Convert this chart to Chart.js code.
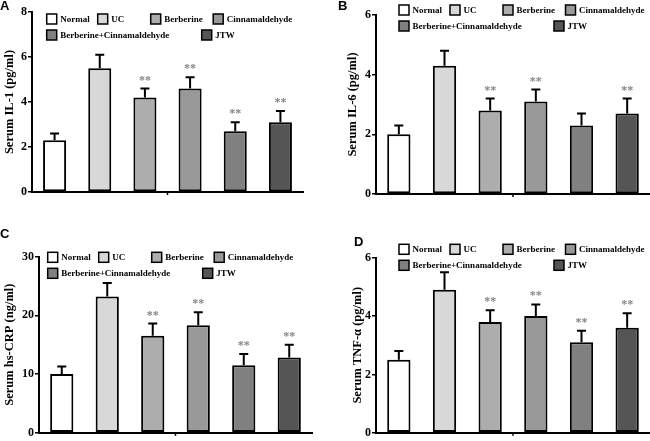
<!DOCTYPE html>
<html>
<head>
<meta charset="utf-8">
<script src="https://cdn.jsdelivr.net/npm/chart.js@4.4.1/dist/chart.umd.min.js"></script>
<style>
  body { margin: 0; background: #fff; }
  #wrap { position: relative; width: 650px; height: 441px; overflow: hidden; }
  canvas { position: absolute; }
</style>
</head>
<body>
<div id="wrap">
  <canvas id="panel-a" width="325" height="220" style="left:0;top:0"></canvas>
  <canvas id="panel-b" width="325" height="220" style="left:325px;top:0"></canvas>
  <canvas id="panel-c" width="325" height="221" style="left:0;top:220px"></canvas>
  <canvas id="panel-d" width="325" height="221" style="left:325px;top:220px"></canvas>
</div>
<script>
const groups = ["Normal", "UC", "Berberine", "Cinnamaldehyde", "Berberine+Cinnamaldehyde", "JTW"];
const groupColors = ["#ffffff", "#d8d8d8", "#adadad", "#999999", "#808080", "#555555"];

// mean and error (SD) per group
const il1Mean = [2.3, 5.5, 4.2, 4.6, 2.7, 3.1];
const il1Err = [0.3, 0.6, 0.4, 0.5, 0.4, 0.5];
const il1Stars = ["", "", "**", "**", "**", "**"];

const il6Mean = [2.0, 4.3, 2.8, 3.1, 2.3, 2.7];
const il6Err = [0.3, 0.5, 0.4, 0.4, 0.4, 0.5];
const il6Stars = ["", "", "**", "**", "", "**"];

const crpMean = [10.0, 23.2, 16.5, 18.3, 11.5, 12.8];
const crpErr = [1.3, 2.3, 2.1, 2.2, 1.9, 2.2];
const crpStars = ["", "", "**", "**", "**", "**"];

const tnfMean = [2.5, 4.9, 3.8, 4.0, 3.1, 3.6];
const tnfErr = [0.3, 0.6, 0.4, 0.4, 0.4, 0.5];
const tnfStars = ["", "", "**", "**", "**", "**"];

const serif = "'Liberation Serif', 'Times New Roman', serif";

// legend layout: column offsets from first box, row
const legendCols = [0, 51, 104, 166.5, 0, 155];
const legendRows = [0, 0, 0, 0, 1, 1];

const makeDecor = (p) => ({
  id: "decor",
  afterDatasetsDraw(chart) {
    const ctx = chart.ctx;
    const y = chart.scales.y;
    const meta = chart.getDatasetMeta(0);
    ctx.save();
    // error bars
    ctx.strokeStyle = "#000";
    ctx.lineWidth = 2;
    meta.data.forEach((bar, i) => {
      const yBar = y.getPixelForValue(p.mean[i]);
      const yTop = y.getPixelForValue(p.mean[i] + p.err[i]);
      ctx.beginPath();
      ctx.moveTo(bar.x, yBar);
      ctx.lineTo(bar.x, yTop);
      ctx.moveTo(bar.x - 4.5, yTop);
      ctx.lineTo(bar.x + 4.5, yTop);
      ctx.stroke();
      if (p.stars[i]) {
        ctx.fillStyle = "#858585";
        ctx.font = "bold 12px " + serif;
        ctx.textAlign = "center";
        ctx.textBaseline = "middle";
        ctx.fillText(p.stars[i], bar.x, yTop - 8);
      }
    });
    // small tick in middle of x axis
    const area = chart.chartArea;
    const mid = (area.left + area.right) / 2;
    ctx.lineWidth = 1.5;
    ctx.beginPath();
    ctx.moveTo(mid, area.bottom);
    ctx.lineTo(mid, area.bottom + 3);
    ctx.stroke();
    ctx.restore();
  },
  afterDraw(chart) {
    const ctx = chart.ctx;
    const area = chart.chartArea;
    ctx.save();
    // panel letter
    ctx.fillStyle = "#000";
    ctx.font = "bold 13px 'Liberation Sans', Arial, sans-serif";
    ctx.textAlign = "left";
    ctx.textBaseline = "top";
    ctx.fillText(p.letter, p.letterX, p.letterY);
    // y title
    ctx.font = "bold 12.5px " + serif;
    ctx.textAlign = "center";
    ctx.textBaseline = "middle";
    ctx.translate(p.titleX, (area.top + area.bottom) / 2);
    ctx.rotate(-Math.PI / 2);
    ctx.fillText(p.title, 0, 0);
    ctx.restore();
    // legend
    ctx.save();
    ctx.font = "bold 9px " + serif;
    ctx.textBaseline = "middle";
    ctx.textAlign = "left";
    groups.forEach((g, i) => {
      const bx = p.legendX + legendCols[i];
      const by = p.legendY + legendRows[i] * 16;
      ctx.fillStyle = groupColors[i];
      ctx.fillRect(bx, by - 5, 10, 10);
      ctx.strokeStyle = "#000";
      ctx.lineWidth = 1.5;
      ctx.strokeRect(bx, by - 5, 10, 10);
      ctx.fillStyle = "#000";
      ctx.fillText(g, bx + 13.5, by + 0.5);
    });
    ctx.restore();
  },
});

const drawPanel = (id, p) => {
  const canvas = document.getElementById(id);
  new Chart(canvas.getContext("2d"), {
    type: "bar",
    data: {
      labels: groups,
      datasets: [
        {
          data: p.mean,
          backgroundColor: groupColors,
          borderColor: "#000",
          borderWidth: 2,
          borderSkipped: false,
          barPercentage: 0.51,
          categoryPercentage: 1,
        },
      ],
    },
    options: {
      responsive: false,
      animation: false,
      layout: {
        padding: {
          left: 0,
          top: p.top,
          right: canvas.width - p.right,
          bottom: canvas.height - p.bottom,
        },
      },
      scales: {
        x: {
          ticks: { display: false },
          grid: { display: false },
          border: { color: "#000", width: 2 },
          afterFit: (s) => { s.height = 0; },
        },
        y: {
          min: 0,
          max: p.max,
          ticks: {
            stepSize: p.step,
            color: "#000",
            padding: 1,
            font: { family: serif, size: 12, weight: "bold" },
          },
          grid: { drawOnChartArea: false, drawTicks: true, tickLength: 4, color: "#000", lineWidth: 1.5 },
          border: { color: "#000", width: 2 },
          afterFit: (s) => { s.width = p.left; },
        },
      },
      plugins: {
        legend: { display: false },
        tooltip: { enabled: false },
      },
    },
    plugins: [makeDecor(p)],
  });
};

drawPanel("panel-a", {
  mean: il1Mean, err: il1Err, stars: il1Stars, max: 8, step: 2,
  title: "Serum IL-1 (pg/ml)", letter: "A", letterX: 0, letterY: 0,
  left: 32, right: 303, top: 12, bottom: 192, titleX: 9.5,
  legendX: 46.7, legendY: 19,
});
drawPanel("panel-b", {
  mean: il6Mean, err: il6Err, stars: il6Stars, max: 6, step: 2,
  title: "Serum IL-6 (pg/ml)", letter: "B", letterX: 13, letterY: 0,
  left: 51, right: 325, top: 15, bottom: 194, titleX: 28,
  legendX: 74, legendY: 10,
});
drawPanel("panel-c", {
  mean: crpMean, err: crpErr, stars: crpStars, max: 30, step: 10,
  title: "Serum hs-CRP (ng/ml)", letter: "C", letterX: 0, letterY: 8,
  left: 39, right: 312, top: 36.5, bottom: 215, titleX: 10,
  legendX: 47.7, legendY: 37.3,
});
drawPanel("panel-d", {
  mean: tnfMean, err: tnfErr, stars: tnfStars, max: 6, step: 2,
  title: "Serum TNF-\u03b1 (pg/ml)", letter: "D", letterX: 29, letterY: 16,
  left: 51, right: 325, top: 37.7, bottom: 215, titleX: 33,
  legendX: 74, legendY: 29.3,
});
</script>
</body>
</html>
